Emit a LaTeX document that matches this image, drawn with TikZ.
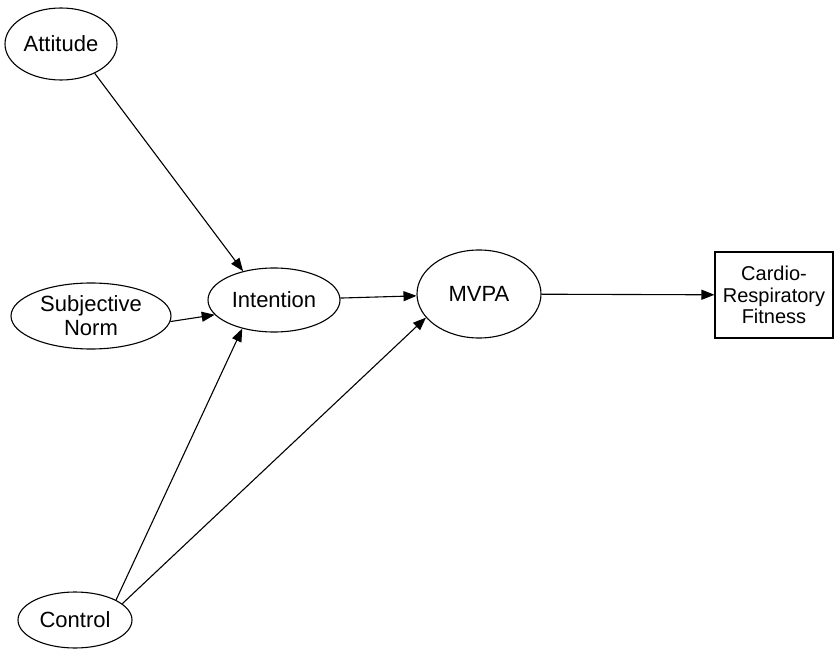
\documentclass[tikz,border=0pt]{standalone}
\usepackage{fontspec}
\setmainfont{Liberation Sans}
\usetikzlibrary{shapes.geometric,arrows.meta}
\begin{document}
\begin{tikzpicture}[x=1pt,y=-1pt,
  oval/.style={draw,ellipse,line width=1.1pt,inner sep=0pt,align=center,font=\fontsize{22}{24}\selectfont},
  boxnode/.style={draw,rectangle,line width=1.1pt,inner sep=0pt,align=center,font=\fontsize{20}{21.5}\selectfont},
  arr/.style={line width=1.1pt,-{Triangle[length=13pt,width=10pt]}}]
\useasboundingbox (0,0) rectangle (835,652);
\node[oval,minimum width=112pt,minimum height=72pt] (att) at (61,44) {Attitude};
\node[oval,minimum width=160pt,minimum height=66pt] (sn) at (91,316) {Subjective\\Norm};
\node[oval,minimum width=132pt,minimum height=64pt] (int) at (274,300) {Intention};
\node[oval,minimum width=124pt,minimum height=88pt] (mvpa) at (479,294) {MVPA};
\node[boxnode,minimum width=118pt,minimum height=86pt] (fit) at (774,295) {Cardio-\\Respiratory\\Fitness};
\node[oval,minimum width=114pt,minimum height=56pt] (ctl) at (75,620) {Control};
\draw[arr] (att.-41) -- (int.137);
\draw[arr] (sn.-4) -- (int.194);
\draw[arr] (int) -- (mvpa);
\draw[arr] (ctl.26) -- (int.222);
\draw[arr] (ctl.19) -- (mvpa.204);
\draw[arr] (mvpa) -- (fit);
\end{tikzpicture}
\end{document}
